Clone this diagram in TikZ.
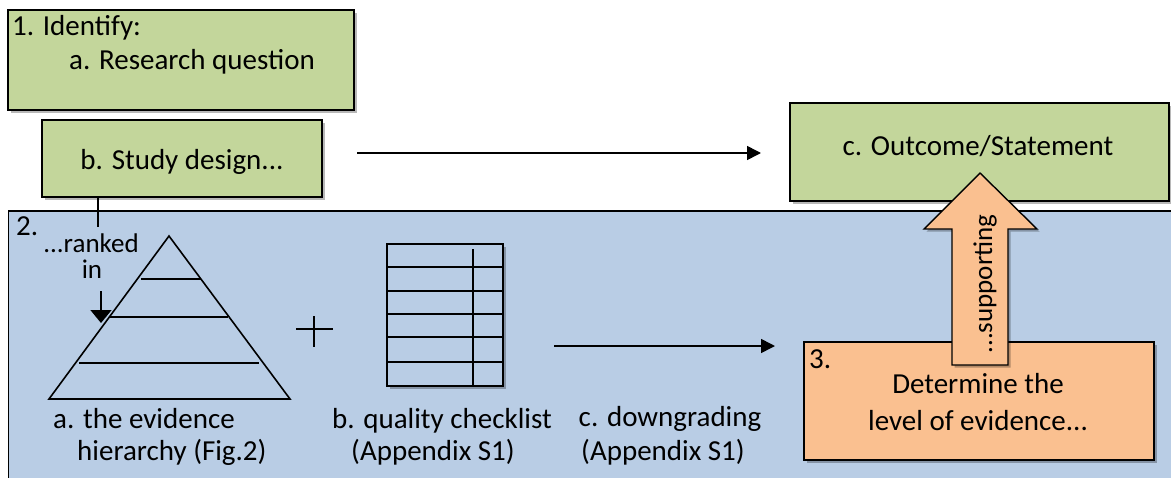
\documentclass[tikz,border=0pt]{standalone}
\usepackage{fontspec}
\setmainfont{Carlito}
\usetikzlibrary{shadows,arrows.meta}
\definecolor{gfill}{HTML}{C3D69B}
\definecolor{bfill}{HTML}{B9CDE5}
\definecolor{ofill}{HTML}{FAC090}
\tikzset{
  shad/.style={drop shadow={shadow xshift=2.5pt,shadow yshift=-2.5pt,fill=black,opacity=0.28}},
  greenbox/.style={draw=black,line width=1.4pt,fill=gfill,shad,inner sep=0pt},
  orangebox/.style={draw=black,line width=1.4pt,fill=ofill,shad,inner sep=0pt},
  txt/.style={font=\fontsize{29}{34}\selectfont,inner sep=0pt,anchor=base},
  txtl/.style={txt,anchor=base west},
  small/.style={font=\fontsize{27}{31}\selectfont,inner sep=0pt,anchor=base},
  conn/.style={line width=1.6pt},
  arr/.style={conn,-{Triangle[length=14pt,width=14pt]}},
  pyr/.style={line width=1.6pt,line join=miter},
}
\begin{document}
\begin{tikzpicture}[x=1pt,y=-1pt]
\useasboundingbox (0,0) rectangle (1171,477);
% blue region
\path[draw=black,line width=1.4pt,fill=bfill] (8.5,211) rectangle (1185,495);
\node[inner sep=0pt] (blue) at (596,353) {};
% green boxes
\node[greenbox,minimum width=346pt,minimum height=100pt] (ident) at (181,60) {};
\node[greenbox,minimum width=280pt,minimum height=77pt] (study) at (182,158.5) {};
\node[greenbox,minimum width=379pt,minimum height=98pt] (outcome) at (979.5,152) {};
% orange box
\node[orangebox,minimum width=350pt,minimum height=118pt] (level) at (979,401) {};
% fat arrow
\draw[line width=1.4pt,fill=ofill,line join=miter,shad]
  (952,365) -- (952,229) -- (924,229) -- (980,173) -- (1037,229) -- (1008,229) -- (1008,365) -- cycle;
\node[small,rotate=90,anchor=center] (supp) at (985,284) {...supporting};
% texts
\node[txtl] (t1) at (12,35) {1. Identify:};
\node[txt] (t1a) at (192,69) {a. Research question};
\node[txt] (t1b) at (182,169) {b. Study design...};
\node[txt] (t1c) at (978,155) {c. Outcome/Statement};
\node[txtl] (t2) at (16,235) {2.};
\node[txtl] (t3) at (809,368) {3.};
\node[txt] (t3a) at (978,393) {Determine the};
\node[txt] (t3b) at (978,430) {level of evidence...};
\node[txtl] (ha) at (53,428) {a. the evidence};
\node[txtl] (hb) at (77,460) {hierarchy (Fig.2)};
\node[txt] (qa) at (442,428) {b. quality checklist};
\node[txt] (qb) at (433,460) {(Appendix S1)};
\node[txt] (da) at (670,426) {c. downgrading};
\node[txt] (db) at (663,460) {(Appendix S1)};
\node[small] (rk1) at (91,252) {...ranked};
\node[small] (rk2) at (92,278) {in};
% ranked connector
\coordinate (rkstart) at (98,197);
\coordinate (rkend) at (98,227);
\draw[conn] (rkstart) -- (rkend);
\coordinate (rkarr1) at (101,291);
\coordinate (rkarr2) at (101,323);
\draw[conn,-{Triangle[length=13pt,width=21pt]}] (rkarr1) -- (rkarr2);
% pyramid
\draw[pyr] (169,236) -- (290,399) -- (49,399) -- cycle;
\draw[pyr] (141,279) -- (201,279);
\draw[pyr] (110,317) -- (228,317);
\draw[pyr] (79,363) -- (259,363);
% plus
\node[inner sep=0pt] (plus) at (314,329) {};
\draw[line width=1.6pt] (296,329) -- (333,329);
\draw[line width=1.6pt] (314,316) -- (314,347);
% checklist
\draw[line width=1.6pt,fill=bfill,shad] (387,244) rectangle (503,386);
\foreach \yy in {267,291,314,337,362} \draw[line width=1.6pt] (387,\yy) -- (503,\yy);
\draw[line width=1.6pt] (473,249) -- (473,386);
% arrows
\coordinate (a1s) at (357,153);
\coordinate (a1e) at (761,153);
\draw[arr] (a1s) -- (a1e);
\coordinate (a2s) at (554,346);
\coordinate (a2e) at (775,346);
\draw[arr] (a2s) -- (a2e);
\end{tikzpicture}
\end{document}
